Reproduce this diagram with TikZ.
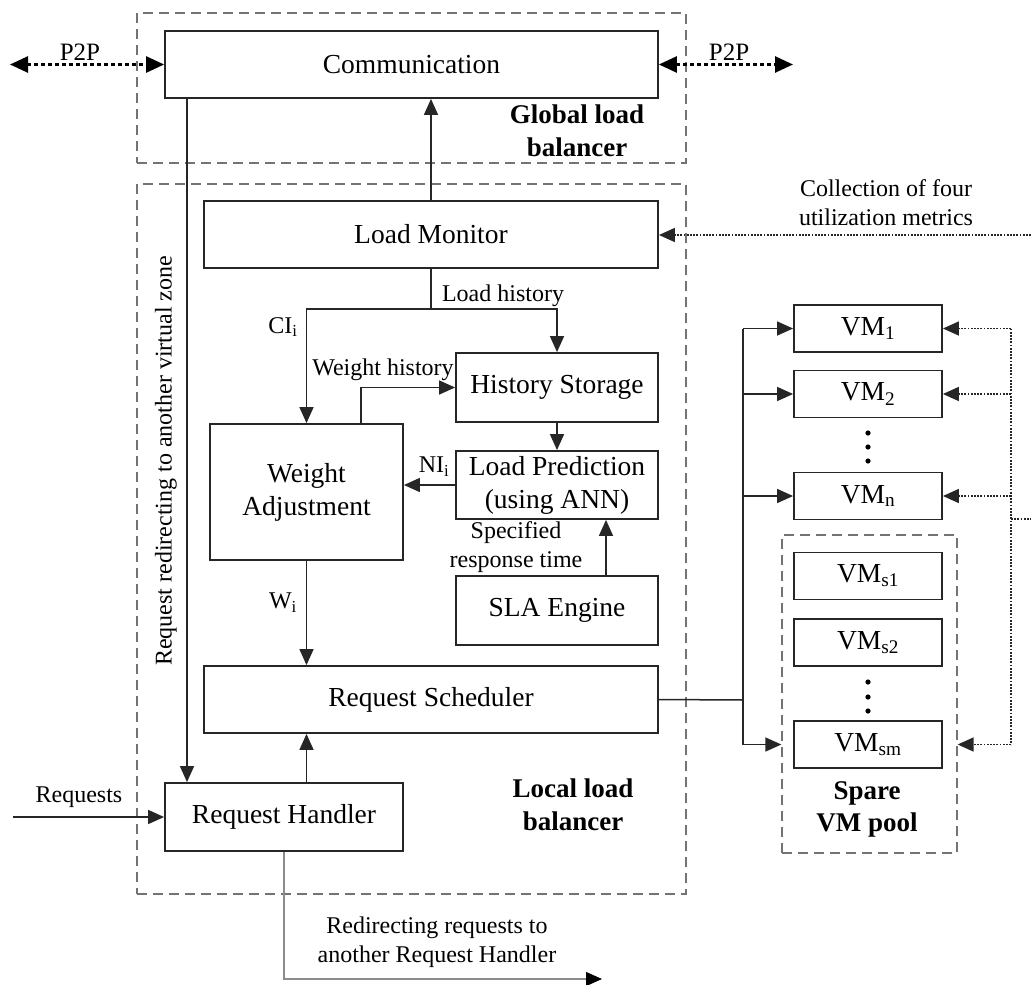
\documentclass[tikz,border=0pt]{standalone}
\usepackage{fontspec}
\setmainfont{Liberation Serif}
\usetikzlibrary{arrows.meta,calc}

\begin{document}
\begin{tikzpicture}[x=1pt,y=-1pt,
  box/.style={draw=black!85, line width=1.8pt, fill=white, inner sep=0pt, align=center,
              font=\fontsize{27.5}{33}\selectfont},
  vmbox/.style={box, minimum width=148pt, minimum height=47pt},
  zone/.style={draw=black!55, line width=1.3pt, dash pattern=on 10pt off 6pt, inner sep=0pt},
  lbl/.style={inner sep=0pt, align=center, font=\fontsize{24}{29}\selectfont},
  blbl/.style={inner sep=0pt, align=center, font=\fontsize{27}{33}\selectfont\bfseries},
  conn/.style={draw=black!85, line width=1.5pt},
  arr/.style={conn, -{Triangle[length=16pt,width=14pt]}},
  p2p/.style={draw=black, line width=2.6pt, dash pattern=on 4pt off 3pt,
              {Triangle[length=18pt,width=16pt]}-{Triangle[length=18pt,width=16pt]}},
  dotl/.style={draw=black!85, line width=1.6pt, dash pattern=on 1.8pt off 1.4pt},
  dotarr/.style={dotl, -{Triangle[length=16pt,width=14pt]}},
]
\useasboundingbox (0,0) rectangle (1031,985);

% dashed containers
\node[zone, minimum width=549pt, minimum height=150pt] (glb) at (411.5,88) {};
\node[zone, minimum width=549pt, minimum height=710pt] (llb) at (411.5,539) {};
\node[zone, minimum width=175pt, minimum height=318pt] (spare) at (869.5,694) {};

% functional blocks
\node[box, minimum width=493pt, minimum height=67pt] (comm) at (411.5,64.5) {Communication};
\node[box, minimum width=454pt, minimum height=67pt] (lm) at (431,234.5) {Load Monitor};
\node[box, minimum width=202pt, minimum height=69pt] (hs) at (557,387.5) {History Storage};
\node[box, minimum width=193pt, minimum height=136pt] (wa) at (306.5,492) {Weight\\Adjustment};
\node[box, minimum width=202pt, minimum height=68pt] (lp) at (557,485) {Load Prediction\\(using ANN)};
\node[box, minimum width=202pt, minimum height=69pt] (sla) at (557,610.5) {SLA Engine};
\node[box, minimum width=454pt, minimum height=67pt] (rs) at (431,699.5) {Request Scheduler};
\node[box, minimum width=238pt, minimum height=68pt] (rh) at (284,817) {Request Handler};

% virtual machines
\node[vmbox] (vm1) at (868,328.5) {VM\textsubscript{1}};
\node[vmbox] (vm2) at (868,394) {VM\textsubscript{2}};
\node[vmbox] (vmn) at (868,496) {VM\textsubscript{n}};
\node[vmbox] (vms1) at (868,576) {VM\textsubscript{s1}};
\node[vmbox] (vms2) at (868,642.5) {VM\textsubscript{s2}};
\node[vmbox] (vmsm) at (868,744.5) {VM\textsubscript{sm}};
\foreach \yy in {433,447,461,682,697,711} \fill (868,\yy) circle (2.6pt);

% text labels
\node[lbl, font=\fontsize{25}{29}\selectfont] (p2pl) at (80,52) {P2P};
\node[lbl, font=\fontsize{25}{29}\selectfont] (p2pr) at (729,52) {P2P};
\node[blbl] (glbl) at (577,131) {Global load\\balancer};
\node[blbl] (llbl) at (573,805) {Local load\\balancer};
\node[blbl, font=\fontsize{27}{32}\selectfont\bfseries] (sparel) at (867,809) {Spare\\VM pool};
\node[lbl] (colll) at (886,203) {Collection of four\\utilization metrics};
\node[lbl] (lhl) at (503,296) {Load history};
\node[lbl] (cil) at (283,327) {CI\textsubscript{i}};
\node[lbl] (whl) at (383,370) {Weight history};
\node[lbl] (nil) at (434,467) {NI\textsubscript{i}};
\node[lbl] (srl) at (516,547.5) {Specified\\response time};
\node[lbl] (wil) at (283,603) {W\textsubscript{i}};
\node[lbl] (reql) at (79,797) {Requests};
\node[lbl] (redl) at (437,942.5) {Redirecting requests to\\another Request Handler};
\node[lbl, rotate=90] (rzl) at (166,461) {Request redirecting to another virtual zone};

% free ends and bends
\coordinate (p2pa) at (10,64.5);
\coordinate (p2pb) at (793,64.5);
\coordinate (rvx) at (187,0);
\coordinate (cin) at (1031,235);
\coordinate (lj) at (431,309);
\coordinate (wh) at (361,424);
\coordinate (sx) at (606,0);
\coordinate (reqin) at (13,817);
\coordinate (redend) at (602,979);
\coordinate (bus) at (743,700);
\coordinate (mb) at (1011,519);
\coordinate (mbout) at (1031,519);

% peer-to-peer links
\draw[p2p] (p2pa) -- (comm.west);
\draw[p2p] (comm.east) -- (p2pb);

% local balancer flows
\draw[arr] (lm.north) -- (lm.north |- comm.south);
\draw[arr] (comm.south -| rvx) -- (rh.north -| rvx);
\draw[dotarr] (cin) -- (cin -| lm.east);
\draw[conn] (lm.south) -- (lj);
\draw[arr] (lj) -| (hs.north);
\draw[arr] (lj) -| (wa.north);
\draw[arr] (wh) |- (hs.west);
\draw[arr] (hs.south) -- (lp.north);
\draw[arr] (lp.west) -- (lp.west -| wa.east);
\draw[arr] (sla.north -| sx) -- (lp.south -| sx);
\draw[arr] (wa.south) -- (rs.north -| wa.south);
\draw[arr] (rh.north -| wa.south) -- (rs.south -| wa.south);
\draw[arr] (reqin) -- (rh.west);
\draw[draw=black!45, line width=1.1pt, -{Triangle[length=16pt,width=14pt,color=black]}] (rh.south) |- (redend);

% dispatch to virtual machines
\draw[conn] (rs.east) -- (bus);
\draw[conn] (bus |- vm1) -- (bus |- vmsm);
\draw[arr] (bus |- vm1) -- (vm1.west);
\draw[arr] (bus |- vm2) -- (vm2.west);
\draw[arr] (bus |- vmn) -- (vmn.west);
\draw[arr] (bus |- vmsm) -- (spare.west |- vmsm);

% utilization metric collection
\draw[dotl] (mb |- vm1) -- (mb |- vmsm);
\draw[dotl] (mb) -- (mbout);
\draw[dotarr] (mb |- vm1) -- (vm1.east);
\draw[dotarr] (mb |- vm2) -- (vm2.east);
\draw[dotarr] (mb |- vmn) -- (vmn.east);
\draw[dotarr] (mb |- vmsm) -- (spare.east |- vmsm);
\end{tikzpicture}
\end{document}
